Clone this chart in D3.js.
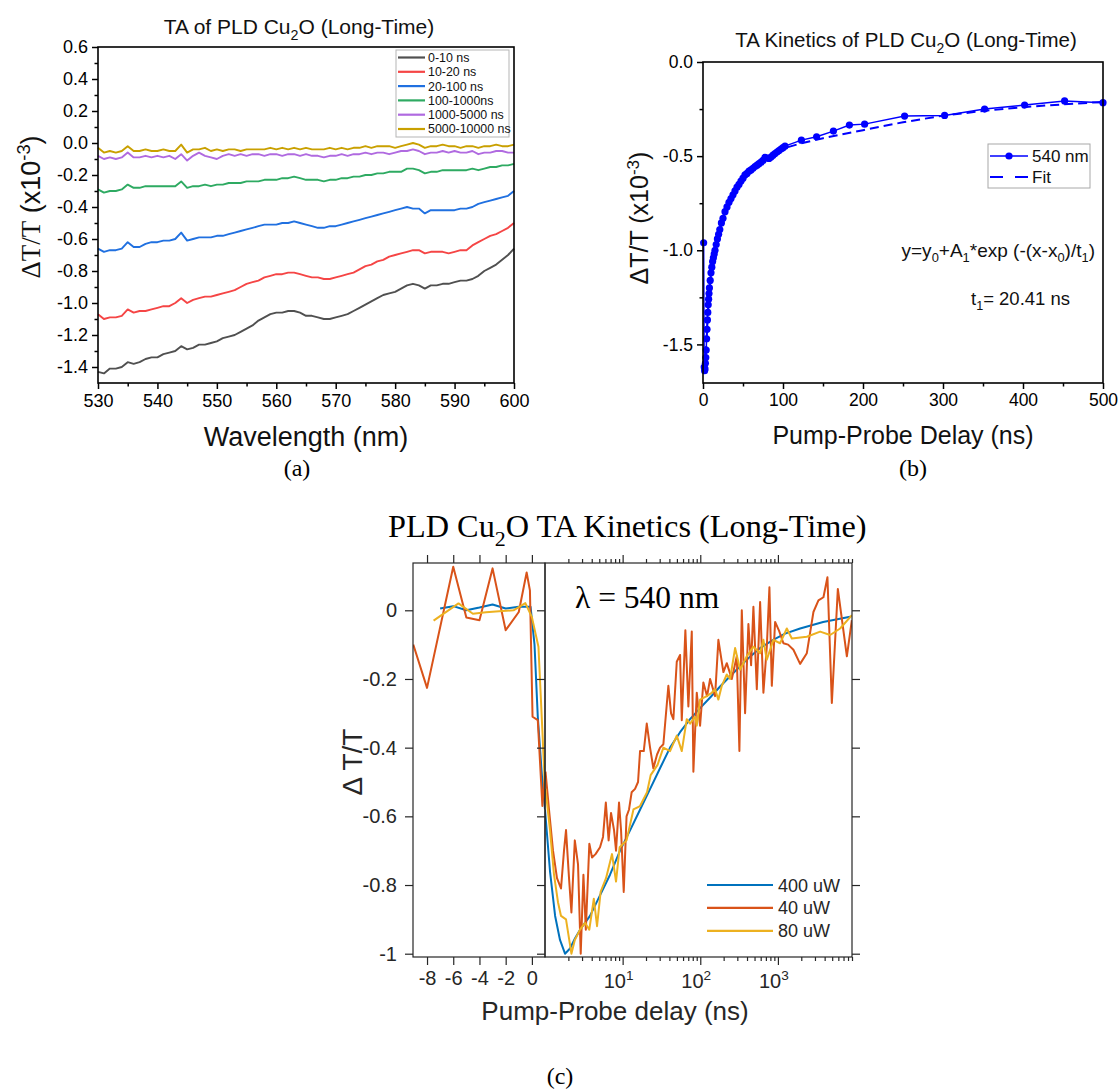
<!DOCTYPE html>
<html>
<head>
<meta charset="utf-8">
<script src="https://cdn.jsdelivr.net/npm/d3@7/dist/d3.min.js"></script>
<style>
html,body{margin:0;padding:0;background:#fff;}
svg{display:block;}
</style>
</head>
<body>
<svg id="fig" width="1119" height="1091"></svg>
<script>
// ================= DATA =================
// Panel (a): TA spectra
const wavelengths = [530,531,532,533,534,535,536,537,538,539,540,541,542,543,544,545,546,547,548,549,550,551,552,553,554,555,556,557,558,559,560,561,562,563,564,565,566,567,568,569,570,571,572,573,574,575,576,577,578,579,580,581,582,583,584,585,586,587,588,589,590,591,592,593,594,595,596,597,598,599,600];
const spec_0_10 = [-1.43,-1.44,-1.41,-1.41,-1.40,-1.37,-1.38,-1.37,-1.35,-1.34,-1.34,-1.32,-1.31,-1.30,-1.27,-1.29,-1.28,-1.26,-1.26,-1.25,-1.24,-1.22,-1.21,-1.20,-1.18,-1.16,-1.14,-1.11,-1.09,-1.07,-1.06,-1.06,-1.05,-1.05,-1.06,-1.08,-1.08,-1.09,-1.10,-1.10,-1.09,-1.08,-1.07,-1.05,-1.03,-1.01,-0.99,-0.97,-0.95,-0.94,-0.93,-0.91,-0.89,-0.88,-0.89,-0.91,-0.89,-0.89,-0.88,-0.88,-0.87,-0.86,-0.86,-0.85,-0.83,-0.80,-0.78,-0.76,-0.73,-0.70,-0.66];
const spec_10_20 = [-1.07,-1.10,-1.09,-1.09,-1.08,-1.04,-1.06,-1.05,-1.05,-1.04,-1.03,-1.02,-1.02,-1.00,-0.97,-1.00,-0.98,-0.97,-0.96,-0.96,-0.95,-0.94,-0.93,-0.92,-0.90,-0.88,-0.87,-0.86,-0.84,-0.83,-0.82,-0.82,-0.81,-0.81,-0.82,-0.83,-0.84,-0.84,-0.85,-0.85,-0.84,-0.83,-0.82,-0.81,-0.79,-0.77,-0.76,-0.74,-0.73,-0.71,-0.70,-0.69,-0.68,-0.67,-0.67,-0.69,-0.68,-0.68,-0.68,-0.69,-0.68,-0.67,-0.67,-0.64,-0.62,-0.60,-0.58,-0.57,-0.55,-0.53,-0.50];
const spec_20_100 = [-0.66,-0.68,-0.67,-0.67,-0.66,-0.62,-0.65,-0.65,-0.63,-0.62,-0.62,-0.61,-0.61,-0.60,-0.56,-0.61,-0.60,-0.59,-0.59,-0.59,-0.58,-0.58,-0.57,-0.56,-0.55,-0.54,-0.53,-0.52,-0.51,-0.51,-0.51,-0.50,-0.50,-0.49,-0.50,-0.51,-0.52,-0.53,-0.53,-0.52,-0.52,-0.51,-0.50,-0.49,-0.48,-0.47,-0.46,-0.45,-0.44,-0.43,-0.42,-0.41,-0.40,-0.41,-0.41,-0.44,-0.42,-0.42,-0.42,-0.42,-0.42,-0.41,-0.41,-0.40,-0.38,-0.37,-0.36,-0.35,-0.34,-0.33,-0.30];
const spec_100_1000 = [-0.29,-0.31,-0.30,-0.30,-0.29,-0.26,-0.28,-0.28,-0.27,-0.27,-0.27,-0.27,-0.27,-0.27,-0.24,-0.28,-0.27,-0.27,-0.26,-0.27,-0.26,-0.26,-0.25,-0.25,-0.25,-0.24,-0.24,-0.24,-0.23,-0.23,-0.23,-0.22,-0.22,-0.21,-0.22,-0.23,-0.23,-0.23,-0.24,-0.23,-0.23,-0.22,-0.22,-0.21,-0.21,-0.20,-0.20,-0.19,-0.19,-0.18,-0.18,-0.18,-0.16,-0.16,-0.17,-0.19,-0.18,-0.18,-0.17,-0.17,-0.17,-0.17,-0.17,-0.16,-0.17,-0.16,-0.15,-0.15,-0.14,-0.14,-0.13];
const spec_1000_5000 = [-0.08,-0.10,-0.09,-0.10,-0.09,-0.06,-0.09,-0.09,-0.08,-0.09,-0.08,-0.09,-0.08,-0.10,-0.07,-0.11,-0.08,-0.06,-0.08,-0.09,-0.10,-0.08,-0.07,-0.08,-0.07,-0.08,-0.07,-0.07,-0.08,-0.07,-0.07,-0.08,-0.07,-0.07,-0.08,-0.07,-0.08,-0.08,-0.09,-0.08,-0.08,-0.07,-0.08,-0.07,-0.07,-0.06,-0.07,-0.06,-0.06,-0.07,-0.06,-0.05,-0.05,-0.04,-0.05,-0.07,-0.06,-0.06,-0.05,-0.06,-0.05,-0.06,-0.06,-0.05,-0.07,-0.06,-0.06,-0.05,-0.05,-0.06,-0.06];
const spec_5000_10000 = [-0.03,-0.06,-0.05,-0.06,-0.05,-0.02,-0.05,-0.05,-0.04,-0.05,-0.05,-0.04,-0.05,-0.05,-0.01,-0.06,-0.04,-0.04,-0.03,-0.05,-0.04,-0.05,-0.04,-0.04,-0.05,-0.04,-0.04,-0.04,-0.04,-0.03,-0.04,-0.03,-0.04,-0.03,-0.04,-0.03,-0.04,-0.04,-0.04,-0.03,-0.04,-0.03,-0.04,-0.03,-0.03,-0.02,-0.03,-0.02,-0.02,-0.02,-0.03,-0.02,-0.01,0.00,-0.01,-0.03,-0.02,-0.02,-0.01,-0.02,-0.02,-0.03,-0.02,-0.02,-0.03,-0.02,-0.02,-0.01,-0.02,-0.02,-0.01];
const spectraLabels = ["0-10 ns","10-20 ns","20-100 ns","100-1000ns","1000-5000 ns","5000-10000 ns"];
const spectraColors = ["#505050","#f54545","#2070e0","#2eaa62","#b06ae0","#c9a000"];
const aXTicks = [530,540,550,560,570,580,590,600];
const aXMinor = [535,545,555,565,575,585,595];
const aYTicks = [0.6,0.4,0.2,0.0,-0.2,-0.4,-0.6,-0.8,-1.0,-1.2,-1.4];
const aYMinor = [0.5,0.3,0.1,-0.1,-0.3,-0.5,-0.7,-0.9,-1.1,-1.3];

// Panel (b): kinetics at 540 nm and fit
const kinT = [0.8,1.5,2.0,2.5,3.0,3.5,4.0,4.5,5.0,5.5,6.0,6.5,7.0,7.5,8.0,9.0,10,11,12,13,14,15,16.5,18,19.5,21,23,25,27.5,30,32.5,35,37.5,40,42.5,45,47.5,50,52.5,55,57.5,60,62.5,65,67.5,70,72.5,75,77.5,80,82.5,85,87.5,90,92.5,95,97.5,100,102.5,123,142,163,183,202,252,302,352,402,452,500];
const kinV = [-0.96,-1.62,-1.64,-1.63,-1.60,-1.57,-1.53,-1.47,-1.42,-1.37,-1.33,-1.29,-1.26,-1.23,-1.20,-1.16,-1.12,-1.09,-1.06,-1.04,-1.02,-1.00,-0.97,-0.94,-0.915,-0.89,-0.855,-0.83,-0.795,-0.77,-0.745,-0.725,-0.705,-0.685,-0.665,-0.65,-0.632,-0.617,-0.60,-0.592,-0.58,-0.573,-0.565,-0.555,-0.548,-0.54,-0.532,-0.523,-0.507,-0.51,-0.512,-0.505,-0.495,-0.486,-0.478,-0.47,-0.462,-0.455,-0.447,-0.415,-0.397,-0.367,-0.335,-0.330,-0.287,-0.284,-0.25,-0.229,-0.207,-0.216];
const fitT = [1.5,2,3,4,5,6,8,10,13,16,20,25,30,40,50,60,70,80,90,100,120,150,200,250,300,350,400,450,500];
const fitV = [-1.63,-1.62,-1.58,-1.51,-1.43,-1.35,-1.22,-1.13,-1.04,-0.98,-0.91,-0.835,-0.775,-0.69,-0.625,-0.578,-0.54,-0.51,-0.485,-0.46,-0.435,-0.405,-0.362,-0.32,-0.285,-0.26,-0.24,-0.225,-0.212];
const bXTicks = [0,100,200,300,400,500];
const bXMinor = [50,150,250,350,450];
const bYTicks = [0.0,-0.5,-1.0,-1.5];
const bYMinor = [-0.25,-0.75,-1.25];

// Panel (c): broken-axis kinetics (linear part t<=1 ns, log part t>=1 ns)
const powerLabels = ["400 uW","40 uW","80 uW"];
const powerColors = ["#0072BD","#D95319","#EDB120"];
const blueLT = [-7,-6,-5,-4,-3,-2,-1,-0.1,0.2,0.45,0.8,1.0];
const blueLV = [0.005,0.012,0.0,0.008,0.017,0.005,0.01,0.01,-0.1,-0.31,-0.5,-0.58];
const orangeLT = [-9.05,-8,-6,-5,-4,-3,-2,-1,-0.4,-0.15,0.05,0.45,0.8,1.0];
const orangeLV = [-0.10,-0.226,0.127,-0.021,-0.029,0.122,-0.058,-0.005,0.11,0.058,-0.31,-0.32,-0.57,-0.47];
const yellowLT = [-7.5,-5.6,-4.5,-3.5,-2.5,-1.4,-0.5,0.0,0.5,0.8,1.0];
const yellowLV = [-0.03,0.02,-0.01,-0.006,-0.003,0.0,0.021,-0.02,-0.106,-0.35,-0.52];
const blueRT = [1.0,1.16,1.35,1.56,1.81,2.1,2.44,2.83,3.8,5.11,6.88,9.26,12.5,16.8,22.6,30.3,40.8,54.9,73.9,99.4,134,180,242,326,438,590,867,1238,1932,3823,8519];
const blueRV = [-0.58,-0.76,-0.89,-0.96,-1.0,-0.985,-0.955,-0.93,-0.89,-0.83,-0.77,-0.70,-0.64,-0.58,-0.52,-0.46,-0.40,-0.355,-0.317,-0.285,-0.254,-0.222,-0.192,-0.163,-0.135,-0.11,-0.086,-0.068,-0.053,-0.034,-0.019];
const orangeRT = [1.015,1.126,1.268,1.427,1.608,1.757,1.865,2.039,2.189,2.421,2.663,2.885,3.125,3.357,3.724,4.034,4.476,5.114,5.589,6.074,6.6,7.087,7.748,8.223,8.986,9.537,10.33,11.23,12.09,13.06,14.45,15.79,16.76,18.71,20.45,22.55,24.87,27.76,30.34,33.46,38.81,42.04,45.02,49.8,54.93,57.77,64.27,70.26,77.72,81.5,90.1,99.4,109.6,122.4,133.8,155.1,171.1,198.5,219.5,254.6,295.3,319.1,342.6,377.8,416.7,451.5,483.4,534.8,589.8,650.4,719.4,777.3,834.4,920.3,1036,1177,1353,1584,1932,2357,2867,3326,3858,4344,4950,5914,7727,8962];
const orangeRV = [-0.47,-0.58,-0.70,-0.78,-0.81,-0.70,-0.64,-0.78,-0.88,-0.67,-0.74,-1.0,-0.77,-0.93,-0.68,-0.72,-0.71,-0.69,-0.66,-0.56,-0.67,-0.59,-0.64,-0.70,-0.56,-0.64,-0.82,-0.60,-0.58,-0.53,-0.52,-0.50,-0.41,-0.41,-0.33,-0.40,-0.46,-0.42,-0.40,-0.39,-0.22,-0.30,-0.317,-0.15,-0.13,-0.32,-0.058,-0.28,-0.062,-0.47,-0.24,-0.336,-0.21,-0.25,-0.20,-0.25,-0.086,-0.18,-0.154,-0.20,-0.134,-0.41,0.0,-0.30,-0.04,-0.16,0.01,-0.23,0.024,-0.24,-0.106,0.067,-0.22,-0.034,-0.06,-0.096,-0.10,-0.115,-0.156,-0.125,-0.005,0.029,0.038,0.096,-0.27,0.062,-0.134,-0.029];
const yellowRT = [1.015,1.16,1.306,1.47,1.608,1.865,2.189,2.421,2.826,3.278,3.72,4.255,4.679,5.206,6.11,7.3,8.22,9.15,11.23,13.78,16.76,20.63,22.96,28.17,33.46,40.81,49.8,57.8,67.0,73.9,85.7,90.1,99.4,121.3,140.7,155.1,171.1,189.3,219.5,242.1,280.9,325.8,397.4,483.4,590,650,719,875,1067,1302,1511,2357,3498,4708,6331,8962];
const yellowRV = [-0.52,-0.64,-0.77,-0.85,-0.89,-0.90,-1.0,-0.96,-0.93,-0.91,-0.93,-0.84,-0.92,-0.82,-0.78,-0.71,-0.79,-0.69,-0.67,-0.58,-0.57,-0.53,-0.48,-0.45,-0.40,-0.41,-0.365,-0.41,-0.317,-0.33,-0.31,-0.336,-0.26,-0.25,-0.24,-0.23,-0.26,-0.22,-0.187,-0.2,-0.11,-0.173,-0.134,-0.106,-0.125,-0.086,-0.144,-0.086,-0.096,-0.053,-0.082,-0.077,-0.062,-0.072,-0.053,-0.014];
const cYTicks = [0,-0.2,-0.4,-0.6,-0.8,-1];
const cLinTicks = [-8,-6,-4,-2,0];
const cLogMajor = [10,100,1000];
const cLogMinor = [2,3,4,5,6,7,8,9,20,30,40,50,60,70,80,90,200,300,400,500,600,700,800,900,2000,3000,4000,5000,6000,7000,8000,9000];
const cLogLabels = [{base:"10",exp:"1",v:10},{base:"10",exp:"2",v:100},{base:"10",exp:"3",v:1000}];

// ================= DRAWING =================
const SANS = 'Arial, "Liberation Sans", Helvetica, sans-serif';
const SERIF = '"Times New Roman", "Liberation Serif", Times, serif';
const svg = d3.select('#fig');

function rich(sel, parts, size) {
  let shift = 0;
  parts.forEach(p => {
    const ts = sel.append('tspan').text(p.t);
    const target = p.sub ? size * 0.28 : (p.sup ? -size * 0.38 : 0);
    ts.attr('dy', target - shift);
    shift = target;
    if (p.sub || p.sup) ts.attr('font-size', size * 0.68);
    if (p.font) ts.attr('font-family', p.font);
  });
}
function styleAxis(g, color, width, font, size) {
  g.select('.domain').remove();
  g.attr('font-family', null).attr('font-size', null);
  g.selectAll('.tick line').attr('stroke', color).attr('stroke-width', width);
  g.selectAll('.tick text').attr('fill', color).attr('font-family', font).attr('font-size', size);
}

// ---------- Panel (a) ----------
const pa = {l: 98, r: 514, t: 47, b: 383};
const xa = d3.scaleLinear().domain([530, 600]).range([pa.l, pa.r]);
const ya = d3.scaleLinear().domain([-1.5, 0.6]).range([pa.b, pa.t]);
const ga = svg.append('g');
const seriesA = [spec_0_10, spec_10_20, spec_20_100, spec_100_1000, spec_1000_5000, spec_5000_10000];
const lineA = d3.line().x((d, i) => xa(wavelengths[i])).y(d => ya(d));
seriesA.forEach((s, k) => {
  ga.append('path').datum(s).attr('d', lineA).attr('fill', 'none')
    .attr('stroke', spectraColors[k]).attr('stroke-width', 1.9).attr('stroke-linejoin', 'round');
});
let ax;
ax = ga.append('g').attr('transform', `translate(0,${pa.b})`)
  .call(d3.axisBottom(xa).tickValues(aXTicks).tickSize(6).tickSizeOuter(0).tickPadding(5).tickFormat(d => d));
styleAxis(ax, '#000', 1.5, SANS, 18);
ax = ga.append('g').attr('transform', `translate(0,${pa.b})`)
  .call(d3.axisBottom(xa).tickValues(aXMinor).tickSize(3.5).tickSizeOuter(0).tickFormat(''));
styleAxis(ax, '#000', 1.5, SANS, 18);
ax = ga.append('g').attr('transform', `translate(${pa.l},0)`)
  .call(d3.axisLeft(ya).tickValues(aYTicks).tickSize(6).tickSizeOuter(0).tickPadding(4).tickFormat(d => d.toFixed(1)));
styleAxis(ax, '#000', 1.5, SANS, 18);
ax = ga.append('g').attr('transform', `translate(${pa.l},0)`)
  .call(d3.axisLeft(ya).tickValues(aYMinor).tickSize(3.5).tickSizeOuter(0).tickFormat(''));
styleAxis(ax, '#000', 1.5, SANS, 18);
ga.append('rect').attr('x', pa.l).attr('y', pa.t).attr('width', pa.r - pa.l).attr('height', pa.b - pa.t)
  .attr('fill', 'none').attr('stroke', '#000').attr('stroke-width', 1.6);
// legend (a)
const legA = ga.append('g');
legA.append('rect').attr('x', 396).attr('y', 50).attr('width', 113).attr('height', 87)
  .attr('fill', '#fff').attr('stroke', '#b5b5b5').attr('stroke-width', 1);
spectraLabels.forEach((lab, k) => {
  const y = 57.5 + k * 14.3;
  legA.append('line').attr('x1', 398).attr('x2', 425).attr('y1', y).attr('y2', y)
    .attr('stroke', spectraColors[k]).attr('stroke-width', 2.2);
  legA.append('text').attr('x', 428).attr('y', y + 4.4).attr('font-family', SANS).attr('font-size', 12.4)
    .attr('fill', '#111').text(lab);
});
// titles/labels (a)
rich(ga.append('text').attr('x', 299).attr('y', 34).attr('text-anchor', 'middle')
  .attr('font-family', SANS).attr('font-size', 21).attr('fill', '#111'),
  [{t: 'TA of PLD Cu'}, {t: '2', sub: true}, {t: 'O (Long-Time)'}], 21);
ga.append('text').attr('x', (pa.l + pa.r) / 2).attr('y', 446).attr('text-anchor', 'middle')
  .attr('font-family', SANS).attr('font-size', 27).attr('fill', '#111').text('Wavelength (nm)');
rich(ga.append('text').attr('transform', 'translate(40,207) rotate(-90)').attr('text-anchor', 'middle')
  .attr('font-family', SANS).attr('font-size', 27).attr('fill', '#111'),
  [{t: 'ΔT/T', font: SERIF}, {t: ' (x10'}, {t: '-3', sup: true}, {t: ')'}], 27);

// ---------- Panel (b) ----------
const pb = {l: 703, r: 1103, t: 62, b: 383};
const xb = d3.scaleLinear().domain([0, 500]).range([pb.l, pb.r]);
const yb = d3.scaleLinear().domain([-1.705, 0]).range([pb.b, pb.t]);
const gb = svg.append('g');
gb.append('path').datum(fitT.map((t, i) => [t, fitV[i]]))
  .attr('d', d3.line().x(d => xb(d[0])).y(d => yb(d[1])))
  .attr('fill', 'none').attr('stroke', '#0000ff').attr('stroke-width', 2).attr('stroke-dasharray', '9,5');
const kin = kinT.map((t, i) => [t, kinV[i]]);
gb.append('path').datum(kin).attr('d', d3.line().x(d => xb(d[0])).y(d => yb(d[1])))
  .attr('fill', 'none').attr('stroke', '#0000ff').attr('stroke-width', 1.5);
gb.selectAll('circle.k').data(kin).enter().append('circle')
  .attr('cx', d => xb(d[0])).attr('cy', d => yb(d[1])).attr('r', 3.6).attr('fill', '#0000ff');
ax = gb.append('g').attr('transform', `translate(0,${pb.b})`)
  .call(d3.axisBottom(xb).tickValues(bXTicks).tickSize(6).tickSizeOuter(0).tickPadding(5).tickFormat(d => d));
styleAxis(ax, '#000', 1.5, SANS, 17.5);
ax = gb.append('g').attr('transform', `translate(0,${pb.b})`)
  .call(d3.axisBottom(xb).tickValues(bXMinor).tickSize(3.5).tickSizeOuter(0).tickFormat(''));
styleAxis(ax, '#000', 1.5, SANS, 17.5);
ax = gb.append('g').attr('transform', `translate(${pb.l},0)`)
  .call(d3.axisLeft(yb).tickValues(bYTicks).tickSize(6).tickSizeOuter(0).tickPadding(4).tickFormat(d => d.toFixed(1)));
styleAxis(ax, '#000', 1.5, SANS, 17.5);
ax = gb.append('g').attr('transform', `translate(${pb.l},0)`)
  .call(d3.axisLeft(yb).tickValues(bYMinor).tickSize(3.5).tickSizeOuter(0).tickFormat(''));
styleAxis(ax, '#000', 1.5, SANS, 17.5);
gb.append('rect').attr('x', pb.l).attr('y', pb.t).attr('width', pb.r - pb.l).attr('height', pb.b - pb.t)
  .attr('fill', 'none').attr('stroke', '#000').attr('stroke-width', 1.6);
// legend (b)
gb.append('rect').attr('x', 988).attr('y', 144).attr('width', 102).attr('height', 44)
  .attr('fill', '#fff').attr('stroke', '#a8a8a8').attr('stroke-width', 1);
gb.append('line').attr('x1', 990).attr('x2', 1028).attr('y1', 156).attr('y2', 156)
  .attr('stroke', '#0000ff').attr('stroke-width', 1.5);
gb.append('circle').attr('cx', 1009).attr('cy', 156).attr('r', 3.6).attr('fill', '#0000ff');
gb.append('text').attr('x', 1032).attr('y', 162).attr('font-family', SANS).attr('font-size', 17).attr('fill', '#111').text('540 nm');
gb.append('line').attr('x1', 990).attr('x2', 1028).attr('y1', 177).attr('y2', 177)
  .attr('stroke', '#0000ff').attr('stroke-width', 2).attr('stroke-dasharray', '13,12');
gb.append('text').attr('x', 1032).attr('y', 183).attr('font-family', SANS).attr('font-size', 17).attr('fill', '#111').text('Fit');
// annotations (b)
rich(gb.append('text').attr('x', 1095).attr('y', 257).attr('text-anchor', 'end')
  .attr('font-family', SANS).attr('font-size', 19).attr('fill', '#111'),
  [{t: 'y=y'}, {t: '0', sub: true}, {t: '+A'}, {t: '1', sub: true}, {t: '*exp (-(x-x'}, {t: '0', sub: true}, {t: ')/t'}, {t: '1', sub: true}, {t: ')'}], 19);
rich(gb.append('text').attr('x', 971).attr('y', 305)
  .attr('font-family', SANS).attr('font-size', 18.5).attr('fill', '#111'),
  [{t: 't'}, {t: '1', sub: true}, {t: '= 20.41 ns'}], 18.5);
rich(gb.append('text').attr('x', 906).attr('y', 47).attr('text-anchor', 'middle')
  .attr('font-family', SANS).attr('font-size', 20.5).attr('fill', '#111'),
  [{t: 'TA Kinetics of PLD Cu'}, {t: '2', sub: true}, {t: 'O (Long-Time)'}], 20.5);
gb.append('text').attr('x', (pb.l + pb.r) / 2).attr('y', 444).attr('text-anchor', 'middle')
  .attr('font-family', SANS).attr('font-size', 25).attr('fill', '#111').text('Pump-Probe Delay (ns)');
rich(gb.append('text').attr('transform', 'translate(648,218) rotate(-90)').attr('text-anchor', 'middle')
  .attr('font-family', SANS).attr('font-size', 25).attr('fill', '#111'),
  [{t: 'ΔT/T (x10'}, {t: '-3', sup: true}, {t: ')'}], 25);

// ---------- Panel (c) ----------
const pc = {l: 413, m: 545, r: 852, t: 563, b: 957};
const AX = '#262626';
const yc = d3.scaleLinear().domain([-1.0096, 0.1377]).range([pc.b, pc.t]);
const xcL = d3.scaleLinear().domain([-9.07, 1]).range([pc.l, pc.m]);
const xcR = d3.scaleLog().domain([1, 9000]).range([pc.m, pc.r]);
const gc = svg.append('g');
const defs = svg.append('defs');
defs.append('clipPath').attr('id', 'clipL').append('rect')
  .attr('x', pc.l).attr('y', pc.t).attr('width', pc.m - pc.l).attr('height', pc.b - pc.t);
defs.append('clipPath').attr('id', 'clipR').append('rect')
  .attr('x', pc.m).attr('y', pc.t).attr('width', pc.r - pc.m).attr('height', pc.b - pc.t);
const leftSets = [[blueLT, blueLV], [orangeLT, orangeLV], [yellowLT, yellowLV]];
const rightSets = [[blueRT, blueRV], [orangeRT, orangeRV], [yellowRT, yellowRV]];
const gL = gc.append('g').attr('clip-path', 'url(#clipL)');
const gR = gc.append('g').attr('clip-path', 'url(#clipR)');
leftSets.forEach((s, k) => {
  gL.append('path').datum(s[0].map((t, i) => [t, s[1][i]]))
    .attr('d', d3.line().x(d => xcL(d[0])).y(d => yc(d[1])))
    .attr('fill', 'none').attr('stroke', powerColors[k]).attr('stroke-width', 2).attr('stroke-linejoin', 'round');
});
rightSets.forEach((s, k) => {
  gR.append('path').datum(s[0].map((t, i) => [t, s[1][i]]))
    .attr('d', d3.line().x(d => xcR(d[0])).y(d => yc(d[1])))
    .attr('fill', 'none').attr('stroke', powerColors[k]).attr('stroke-width', 2).attr('stroke-linejoin', 'round');
});
// axes (c)
ax = gc.append('g').attr('transform', `translate(${pc.l},0)`)
  .call(d3.axisLeft(yc).tickValues(cYTicks).tickSize(8).tickSizeOuter(0).tickPadding(8).tickFormat(d => String(d)));
styleAxis(ax, AX, 1.2, SANS, 20);
ax = gc.append('g').attr('transform', `translate(${pc.m},0)`)
  .call(d3.axisLeft(yc).tickValues(cYTicks).tickSize(8).tickSizeOuter(0).tickFormat(''));
styleAxis(ax, AX, 1.2, SANS, 20);
ax = gc.append('g').attr('transform', `translate(${pc.r},0)`)
  .call(d3.axisRight(yc).tickValues(cYTicks).tickSize(8).tickSizeOuter(0).tickFormat(''));
styleAxis(ax, AX, 1.2, SANS, 20);
ax = gc.append('g').attr('transform', `translate(0,${pc.b})`)
  .call(d3.axisBottom(xcL).tickValues(cLinTicks).tickSize(8).tickSizeOuter(0).tickPadding(6).tickFormat(d => String(d)));
styleAxis(ax, AX, 1.2, SANS, 20);
ax = gc.append('g').attr('transform', `translate(0,${pc.t})`)
  .call(d3.axisTop(xcL).tickValues(cLinTicks).tickSize(8).tickSizeOuter(0).tickFormat(''));
styleAxis(ax, AX, 1.2, SANS, 20);
[[d3.axisBottom, pc.b], [d3.axisTop, pc.t]].forEach(([fn, yy]) => {
  let a1 = gc.append('g').attr('transform', `translate(0,${yy})`)
    .call(fn(xcR).tickValues(cLogMajor).tickSize(8).tickSizeOuter(0).tickFormat(''));
  styleAxis(a1, AX, 1.2, SANS, 20);
  let a2 = gc.append('g').attr('transform', `translate(0,${yy})`)
    .call(fn(xcR).tickValues(cLogMinor).tickSize(4).tickSizeOuter(0).tickFormat(''));
  styleAxis(a2, AX, 1.2, SANS, 20);
});
cLogLabels.forEach(L => {
  rich(gc.append('text').attr('x', xcR(L.v) - 4).attr('y', 988).attr('text-anchor', 'middle')
    .attr('font-family', SANS).attr('font-size', 20).attr('fill', AX),
    [{t: L.base}, {t: L.exp, sup: true}], 20);
});
gc.append('rect').attr('x', pc.l).attr('y', pc.t).attr('width', pc.m - pc.l).attr('height', pc.b - pc.t)
  .attr('fill', 'none').attr('stroke', AX).attr('stroke-width', 1.2);
gc.append('rect').attr('x', pc.m).attr('y', pc.t).attr('width', pc.r - pc.m).attr('height', pc.b - pc.t)
  .attr('fill', 'none').attr('stroke', AX).attr('stroke-width', 1.2);
// legend (c)
powerLabels.forEach((lab, k) => {
  const y = 885 + k * 22.9;
  gc.append('line').attr('x1', 707).attr('x2', 773).attr('y1', y).attr('y2', y)
    .attr('stroke', powerColors[k]).attr('stroke-width', 2.2);
  gc.append('text').attr('x', 778).attr('y', y + 6.5).attr('font-family', SANS).attr('font-size', 18)
    .attr('fill', AX).text(lab);
});
gc.append('text').attr('x', 575).attr('y', 608).attr('font-family', SERIF).attr('font-size', 31.5)
  .attr('fill', '#000').text('λ = 540 nm');
rich(gc.append('text').attr('x', 388).attr('y', 537).attr('font-family', SERIF).attr('font-size', 32.3).attr('fill', '#000'),
  [{t: 'PLD Cu'}, {t: '2', sub: true}, {t: 'O TA Kinetics (Long-Time)'}], 32.3);
gc.append('text').attr('x', 615).attr('y', 1020).attr('text-anchor', 'middle')
  .attr('font-family', SANS).attr('font-size', 26).attr('fill', AX).text('Pump-Probe delay (ns)');
gc.append('text').attr('transform', 'translate(362,762) rotate(-90)').attr('text-anchor', 'middle')
  .attr('font-family', SANS).attr('font-size', 28).attr('fill', AX).text('Δ T/T');

// captions
[['(a)', 297, 476], ['(b)', 913, 476], ['(c)', 560, 1084]].forEach(([t, x, y]) => {
  svg.append('text').attr('x', x).attr('y', y).attr('text-anchor', 'middle')
    .attr('font-family', SERIF).attr('font-size', 24).attr('fill', '#000').text(t);
});
</script>
</body>
</html>
